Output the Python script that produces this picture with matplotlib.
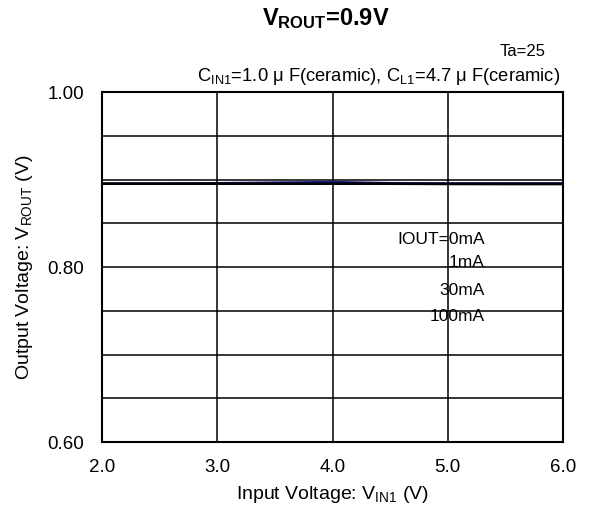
import matplotlib
matplotlib.use("Agg")
import matplotlib.pyplot as plt

plt.rcParams['font.family'] = ['Liberation Sans', 'DejaVu Sans']
plt.rcParams['mathtext.fontset'] = 'custom'
plt.rcParams['mathtext.rm'] = 'Liberation Sans'
plt.rcParams['mathtext.it'] = 'Liberation Sans'
plt.rcParams['mathtext.bf'] = 'Liberation Sans:bold'

# Data
vin = [2.0, 2.5, 3.0, 3.5, 4.0, 4.5, 5.0, 5.5, 6.0]
vout_0mA = [0.8953, 0.8953, 0.8954, 0.8955, 0.8956, 0.8955, 0.8955, 0.8955, 0.8955]
vout_1mA = [0.8952, 0.8954, 0.8959, 0.8966, 0.8972, 0.8960, 0.8956, 0.8956, 0.8956]
vout_30mA = [0.8952, 0.8952, 0.8953, 0.8953, 0.8954, 0.8953, 0.8950, 0.8950, 0.8950]
vout_100mA = [0.8950, 0.8950, 0.8951, 0.8951, 0.8952, 0.8950, 0.8947, 0.8946, 0.8946]
series = [("0mA", vout_0mA, "black"), ("1mA", vout_1mA, "#1c1c8a"),
          ("30mA", vout_30mA, "black"), ("100mA", vout_100mA, "black")]
legend_labels = ["IOUT=0mA", "1mA", "30mA", "100mA"]
legend_y = [0.8309, 0.8046, 0.7737, 0.7429]
x_ticks = [2.0, 3.0, 4.0, 5.0, 6.0]
y_ticks = [0.60, 0.80, 1.00]
y_grid = [0.65, 0.70, 0.75, 0.80, 0.85, 0.90, 0.95]

fig = plt.figure(figsize=(5.9, 5.14), dpi=100)
ax = fig.add_axes([0.1729, 0.140, 0.7814, 0.681])

for yg in y_grid:
    ax.axhline(yg, color='black', lw=1.1, zorder=1)
for xg in [3.0, 4.0, 5.0]:
    ax.axvline(xg, color='black', lw=1.1, zorder=1)

for name, vals, col in series:
    ax.plot(vin, vals, color=col, lw=1.6, zorder=3)

for lab, yy in zip(legend_labels, legend_y):
    ax.text(5.32, yy, lab, ha='right', va='center', fontsize=12.5, zorder=4)

ax.set_xlim(2.0, 6.0)
ax.set_ylim(0.60, 1.00)
ax.set_xticks(x_ticks)
ax.set_xticklabels([f"{v:.1f}" for v in x_ticks])
ax.set_yticks(y_ticks)
ax.set_yticklabels([f"{v:.2f}" for v in y_ticks])
ax.tick_params(length=0, labelsize=13.5)
ax.tick_params(axis='x', pad=12)
ax.tick_params(axis='y', pad=13)
for sp in ax.spines.values():
    sp.set_linewidth(1.5)

ax.set_xlabel(r"Input Voltage: V$_{\mathrm{IN1}}$ (V)", fontsize=14, labelpad=6)
ax.set_ylabel(r"Output Voltage: V$_{\mathrm{ROUT}}$ (V)", fontsize=14, labelpad=9)

fig.text(0.553, 0.963, r"V$_{\mathbf{ROUT}}$=0.9V", ha='center', va='center',
         fontsize=17, fontweight='bold')
fig.text(0.924, 0.899, "Ta=25", ha='right', va='center', fontsize=12)
fig.text(0.95, 0.851, r"C$_{\mathrm{IN1}}$=1.0 μ F(ceramic), C$_{\mathrm{L1}}$=4.7 μ F(ceramic)",
         ha='right', va='center', fontsize=13.2)

fig.savefig("out.png", dpi=100, facecolor='white')
